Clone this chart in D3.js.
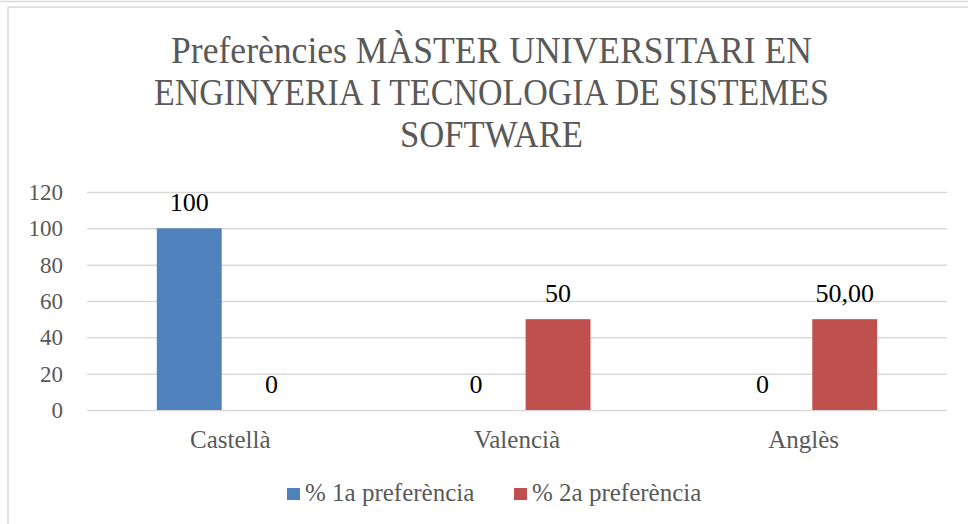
<!DOCTYPE html>
<html>
<head>
<meta charset="utf-8">
<script src="https://cdn.jsdelivr.net/npm/d3@7"></script>
<style>
  body { margin: 0; background: #fff; }
</style>
</head>
<body>
<div id="chart"></div>
<script>
// chart data
var categories = ["Castellà", "Valencià", "Anglès"];
var seriesNames = ["% 1a preferència", "% 2a preferència"];
var firstPref = [100, 0, 0];
var secondPref = [0, 50, 50];
var firstLabels = ["100", "0", "0"];
var secondLabels = ["0", "50", "50,00"];
var yTicks = [0, 20, 40, 60, 80, 100, 120];
var titleLines = ["Preferències MÀSTER UNIVERSITARI EN",
                  "ENGINYERIA I TECNOLOGIA DE SISTEMES",
                  "SOFTWARE"];

var colors = ["#4f81bd", "#c0504d"];
var fontFamily = "'Liberation Serif', 'DejaVu Serif', serif";
var width = 968, height = 524;
var margin = {left: 87, right: 21, top: 192, bottom: 114};
// the original title font is narrow, so each line gets squeezed to its width
var titleWidths = [641, 675, 183];

var svg = d3.select("#chart").append("svg")
    .attr("width", width)
    .attr("height", height)
    .style("font-family", fontFamily);

// frame lines
svg.append("line").attr("x1", 0).attr("x2", width).attr("y1", 1.5).attr("y2", 1.5)
    .attr("stroke", "#d9d9d9").attr("stroke-width", 1.5);
svg.append("rect").attr("x", 8).attr("y", 7).attr("width", width + 10).attr("height", height)
    .attr("fill", "none").attr("stroke", "#d9d9d9").attr("stroke-width", 1.5);

// title
svg.append("g").selectAll("text").data(titleLines).enter().append("text")
    .attr("text-anchor", "middle")
    .attr("x", 491.5)
    .attr("y", function(d, i) { return 63 + i * 42; })
    .attr("textLength", function(d, i) { return titleWidths[i]; })
    .attr("lengthAdjust", "spacingAndGlyphs")
    .attr("fill", "#595959")
    .style("font-family", fontFamily)
    .style("font-size", "38px")
    .text(function(d) { return d; });

var x0 = d3.scaleBand()
    .domain(categories)
    .range([margin.left, width - margin.right]);

var x1 = d3.scaleBand()
    .domain([0, 1])
    .range([0, x0.bandwidth()])
    .paddingInner(0.21)
    .paddingOuter(0.85);

var y = d3.scaleLinear()
    .domain([0, 120])
    .range([height - margin.bottom, margin.top]);

// y axis with gridlines
var yAxis = svg.append("g")
    .attr("transform", "translate(" + margin.left + ",0)")
    .call(d3.axisLeft(y).tickValues(yTicks).tickSize(-(width - margin.left - margin.right)).tickPadding(24));
yAxis.attr("font-family", null);
yAxis.select(".domain").remove();
yAxis.selectAll(".tick line").attr("stroke", "#d9d9d9").attr("stroke-width", 1.5);
yAxis.selectAll(".tick text")
    .attr("fill", "#595959")
    .style("font-size", "23px")
    .style("font-family", fontFamily);

// bars
var seriesValues = [firstPref, secondPref];
var seriesLabels = [firstLabels, secondLabels];
var rows = [];
categories.forEach(function(c, i) {
  [0, 1].forEach(function(s) {
    rows.push({cat: c, s: s, value: seriesValues[s][i], label: seriesLabels[s][i]});
  });
});

svg.append("g").selectAll("rect").data(rows).enter().append("rect")
    .attr("x", function(d) { return x0(d.cat) + x1(d.s); })
    .attr("width", x1.bandwidth())
    .attr("y", function(d) { return y(d.value); })
    .attr("height", function(d) { return y(0) - y(d.value); })
    .attr("fill", function(d) { return colors[d.s]; });

// data labels
svg.append("g").selectAll("text").data(rows).enter().append("text")
    .attr("x", function(d) { return x0(d.cat) + x1(d.s) + x1.bandwidth() / 2; })
    .attr("y", function(d) { return y(d.value) - 17; })
    .attr("text-anchor", "middle")
    .attr("fill", "#000")
    .style("font-family", fontFamily)
    .style("font-size", "26px")
    .text(function(d) { return d.label; });

// category labels
svg.append("g").selectAll("text").data(categories).enter().append("text")
    .attr("x", function(d) { return x0(d) + x0.bandwidth() / 2; })
    .attr("y", 448)
    .attr("text-anchor", "middle")
    .attr("fill", "#595959")
    .style("font-family", fontFamily)
    .style("font-size", "25px")
    .text(function(d) { return d; });

// legend
var legendX = [287, 514];
var legend = svg.append("g").selectAll("g").data(seriesNames).enter().append("g")
    .attr("transform", function(d, i) { return "translate(" + legendX[i] + ",0)"; });
legend.append("rect")
    .attr("x", 0).attr("y", 488).attr("width", 13).attr("height", 12)
    .attr("fill", function(d, i) { return colors[i]; });
legend.append("text")
    .attr("x", 18).attr("y", 501)
    .attr("fill", "#595959")
    .style("font-family", fontFamily)
    .style("font-size", "25px")
    .text(function(d) { return d; });
</script>
</body>
</html>
